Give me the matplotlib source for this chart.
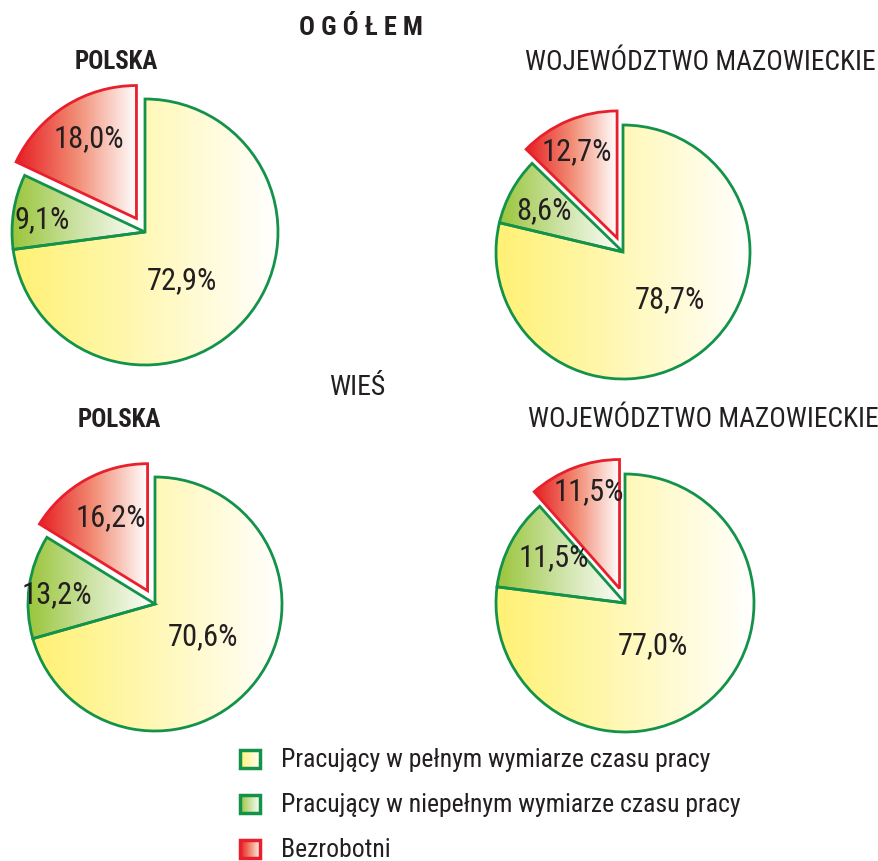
import numpy as np
import matplotlib
matplotlib.use("Agg")
import matplotlib.pyplot as plt
from matplotlib.colors import LinearSegmentedColormap
from matplotlib.patches import Rectangle

W, H = 879, 862
FONT = ["Roboto Condensed", "Roboto", "DejaVu Sans"]
plt.rcParams["font.family"] = FONT

LABELS = ["Pracujący w pełnym wymiarze czasu pracy",
          "Pracujący w niepełnym wymiarze czasu pracy",
          "Bezrobotni"]
OGOLEM_POLSKA = [72.9, 9.1, 18.0]
OGOLEM_MAZ = [78.7, 8.6, 12.7]
WIES_POLSKA = [70.6, 13.2, 16.2]
WIES_MAZ = [77.0, 11.5, 11.5]

# gradient stops: saturated on the left, white on the right
FILLS = [["#fff173", "#fff8b8", "#ffffff"],
         ["#9ac53a", "#cde3a6", "#ffffff"],
         ["#e61f24", "#f28c74", "#ffffff"]]
EDGES = ["#13924a", "#13924a", "#e81f2c"]
TEXT = "#231f20"

fig = plt.figure(figsize=(W / 100, H / 100), dpi=100)
fig.patch.set_facecolor("white")


def fmt(v):
    return f"{v:.1f}%".replace(".", ",")


def gradient(ax, colors, extent, clip=None, zorder=1):
    cmap = LinearSegmentedColormap.from_list("g", colors)
    im = ax.imshow(np.linspace(0, 1, 256).reshape(1, -1), cmap=cmap, extent=extent,
                   aspect="auto", interpolation="bicubic", zorder=zorder)
    if clip is not None:
        im.set_clip_path(clip)


def draw_pie(cx, cy, r, values, label_pos):
    # label_pos: where each percentage sits, in radius units from the pie centre
    pad = 1.3
    ax = fig.add_axes([(cx - pad * r) / W, (H - cy - pad * r) / H, 2 * pad * r / W, 2 * pad * r / H])
    wedges, _ = ax.pie(values, startangle=90, counterclock=False, explode=[0, 0, 0.12],
                       colors=["none"] * 3,
                       wedgeprops=dict(linewidth=2.0, zorder=3))
    for w, fc, ec, v, (lx, ly) in zip(wedges, FILLS, EDGES, values, label_pos):
        w.set_edgecolor(ec)
        w.set_facecolor("none")
        ext = w.get_path().get_extents()
        gradient(ax, fc, [ext.x0, ext.x1, ext.y0, ext.y1], w)
        ax.text(lx, ly, fmt(v), ha="center", va="center", fontsize=22, color=TEXT, zorder=4)
    ax.set_xlim(-pad, pad)
    ax.set_ylim(-pad, pad)
    ax.axis("off")


draw_pie(145, 233, 133, OGOLEM_POLSKA, [(0.28, -0.36), (-0.77, 0.10), (-0.42, 0.71)])
draw_pie(623, 253, 127, OGOLEM_MAZ, [(0.37, -0.37), (-0.62, 0.33), (-0.36, 0.80)])
draw_pie(155, 605, 127, WIES_POLSKA, [(0.38, -0.25), (-0.77, 0.08), (-0.35, 0.69)])
draw_pie(625, 604, 129, WIES_MAZ, [(0.22, -0.32), (-0.55, 0.36), (-0.28, 0.87)])

# titles
fig.text(361 / W, 1 - 28 / H, "O G Ó Ł E M", ha="center", va="center", fontsize=19,
         fontweight="bold", color=TEXT)
fig.text(116 / W, 1 - 62 / H, "POLSKA", ha="center", va="center", fontsize=18,
         fontweight="bold", color=TEXT)
fig.text(700 / W, 1 - 62 / H, "WOJEWÓDZTWO MAZOWIECKIE", ha="center", va="center",
         fontsize=19.8, color=TEXT)
fig.text(357 / W, 1 - 388 / H, "WIEŚ", ha="center", va="center", fontsize=20, color=TEXT)
fig.text(119 / W, 1 - 420 / H, "POLSKA", ha="center", va="center", fontsize=18,
         fontweight="bold", color=TEXT)
fig.text(703 / W, 1 - 420 / H, "WOJEWÓDZTWO MAZOWIECKIE", ha="center", va="center",
         fontsize=19.8, color=TEXT)

# legend
for i, (lab, fc, ec) in enumerate(zip(LABELS, FILLS, EDGES)):
    ycen = 760 + i * 45
    lax = fig.add_axes([240 / W, (H - ycen - 9) / H, 20 / W, 18 / H])
    gradient(lax, fc, [0, 1, 0, 1])
    lax.add_patch(Rectangle((0, 0), 1, 1, fill=False, edgecolor=ec, linewidth=2.5,
                            transform=lax.transAxes, clip_on=False))
    lax.set_xlim(0, 1)
    lax.set_ylim(0, 1)
    lax.axis("off")
    fig.text(281 / W, 1 - ycen / H, lab, ha="left", va="center", fontsize=18.5, color=TEXT)

fig.savefig("out.png", dpi=100, facecolor="white")
